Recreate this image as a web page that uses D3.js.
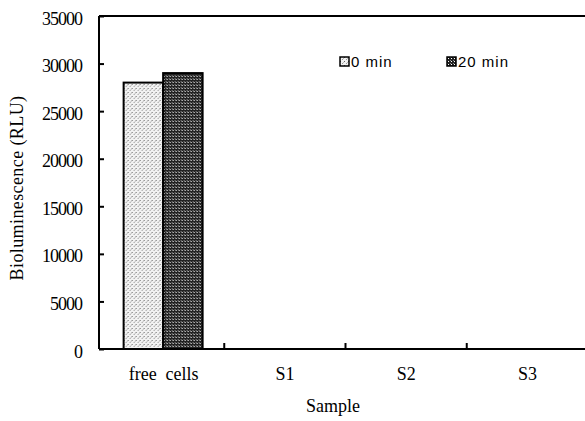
<!DOCTYPE html>
<html>
<head>
<meta charset="utf-8">
<script src="https://cdn.jsdelivr.net/npm/d3@7"></script>
<style>
  body { margin: 0; background: #fff; }
  .tick text, .lbl { font-family: "Liberation Serif", "Times New Roman", serif; }
</style>
</head>
<body>
<div id="chart"></div>
<script>
var categories = ["free cells", "S1", "S2", "S3"];
var series = ["0 min", "20 min"];
var min0 = [28000, 0, 0, 0];
var min20 = [29000, 0, 0, 0];
var yTicks = [0, 5000, 10000, 15000, 20000, 25000, 30000, 35000];

(function() {
var width = 585, height = 421;
var plotLeft = 99, plotTop = 16, plotBottom = 349, plotRight = 588;

var svg = d3.select("#chart").append("svg")
    .attr("width", width)
    .attr("height", height);

var defs = svg.append("defs");
// light stipple for 0 min
var p0 = defs.append("pattern").attr("id", "pat0")
    .attr("width", 4).attr("height", 4).attr("patternUnits", "userSpaceOnUse");
p0.append("rect").attr("width", 4).attr("height", 4).attr("fill", "#f2f2f2");
p0.append("rect").attr("x", 0).attr("y", 0).attr("width", 1).attr("height", 1).attr("fill", "#666");
p0.append("rect").attr("x", 2).attr("y", 2).attr("width", 1).attr("height", 1).attr("fill", "#999");
p0.append("rect").attr("x", 3).attr("y", 1).attr("width", 1).attr("height", 1).attr("fill", "#bbb");
// dark checker for 20 min
var p1 = defs.append("pattern").attr("id", "pat1")
    .attr("width", 3).attr("height", 3).attr("patternUnits", "userSpaceOnUse");
p1.append("rect").attr("width", 3).attr("height", 3).attr("fill", "#222");
p1.append("rect").attr("x", 1).attr("y", 1).attr("width", 1).attr("height", 1).attr("fill", "#fff");
p1.append("rect").attr("x", 0).attr("y", 0).attr("width", 1).attr("height", 1).attr("fill", "#888");

var x = d3.scaleBand().domain(categories).range([103, plotRight]);
var xs = d3.scaleBand().domain(series).range([0, 79]);
var y = d3.scaleLinear().domain([0, 35000]).range([plotBottom, plotTop]);

// y axis (ticks point inward)
var yAxis = d3.axisRight(y).tickValues(yTicks).tickSize(5).tickFormat(d3.format("d"));
var gy = svg.append("g").attr("transform", "translate(" + plotLeft + ",0)").call(yAxis);
gy.select(".domain").remove();
gy.selectAll(".tick line").attr("stroke", "#000").attr("stroke-width", 2);
gy.selectAll(".tick text")
    .attr("x", -17).attr("dy", "0.45em").attr("text-anchor", "end")
    .attr("font-size", 18).attr("fill", "#000")
    .attr("letter-spacing", "-1px");

// bars
var rows = categories.map(function(c, i) { return {cat: c, vals: [min0[i], min20[i]]}; });
var groups = svg.selectAll(".grp").data(rows).enter().append("g")
    .attr("transform", function(d) { return "translate(" + (x(d.cat) + x.bandwidth() / 2 - 40) + ",0)"; });
groups.selectAll("rect")
    .data(function(d) { return d.vals.map(function(v, j) { return {s: series[j], v: v, j: j}; }).filter(function(e) { return e.v > 0; }); })
    .enter().append("rect")
    .attr("x", function(d) { return xs(d.s); })
    .attr("width", xs.bandwidth())
    .attr("y", function(d) { return y(d.v); })
    .attr("height", function(d) { return y(0) - y(d.v); })
    .attr("fill", function(d) { return "url(#pat" + d.j + ")"; })
    .attr("stroke", "#000").attr("stroke-width", 2);

// frame: left axis line, bottom, top
svg.append("line").attr("x1", plotLeft).attr("x2", plotLeft).attr("y1", plotTop).attr("y2", plotBottom)
    .attr("stroke", "#000").attr("stroke-width", 2);
svg.append("line").attr("x1", plotLeft).attr("x2", width).attr("y1", plotBottom).attr("y2", plotBottom)
    .attr("stroke", "#000").attr("stroke-width", 2);
svg.append("line").attr("x1", plotLeft).attr("x2", width).attr("y1", plotTop).attr("y2", plotTop)
    .attr("stroke", "#000").attr("stroke-width", 2);

// x axis
var xAxis = d3.axisBottom(x).tickSize(0);
var gx = svg.append("g").attr("transform", "translate(0," + plotBottom + ")").call(xAxis);
gx.select(".domain").remove();
gx.selectAll(".tick text").attr("y", 31).attr("dy", 0)
    .attr("font-size", 18).attr("fill", "#000");
gx.selectAll(".tick text").filter(function(d) { return d == "free cells"; })
    .attr("xml:space", "preserve").text("free  cells");

// category boundary ticks (inward)
svg.selectAll(".bt").data(categories.slice(1)).enter().append("line")
    .attr("x1", function(d) { return x(d); }).attr("x2", function(d) { return x(d); })
    .attr("y1", plotBottom).attr("y2", plotBottom - 6)
    .attr("stroke", "#000").attr("stroke-width", 2);

// axis titles
svg.append("text").attr("class", "lbl")
    .attr("x", 333).attr("y", 412).attr("text-anchor", "middle")
    .attr("font-size", 18).text("Sample");
svg.append("text").attr("class", "lbl")
    .attr("transform", "translate(23,188) rotate(-90)")
    .attr("text-anchor", "middle").attr("font-size", 18)
    .attr("letter-spacing", "0.4px")
    .text("Bioluminescence (RLU)");

// legend
var legX = [340, 447];
var leg = svg.selectAll(".leg").data(series).enter().append("g")
    .attr("transform", function(d, i) { return "translate(" + legX[i] + ",57)"; });
leg.append("rect").attr("width", 9).attr("height", 9)
    .attr("fill", function(d, i) { return "url(#pat" + i + ")"; })
    .attr("stroke", "#000").attr("stroke-width", 1.5);
leg.append("text").attr("x", 11).attr("y", 10)
    .attr("font-family", "Liberation Sans, Arial, sans-serif")
    .attr("letter-spacing", "1px")
    .attr("font-size", 15).text(function(d) { return d; });
})();
</script>
</body>
</html>
